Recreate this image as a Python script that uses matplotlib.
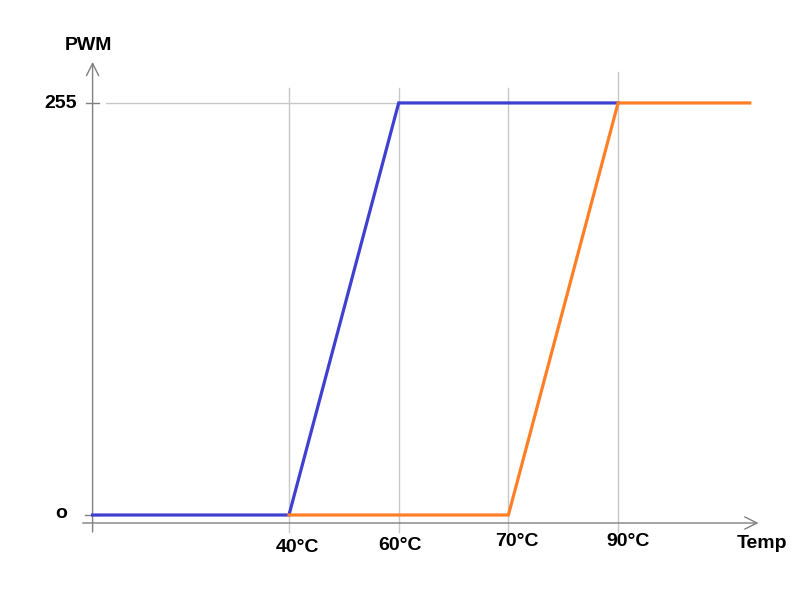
import matplotlib
matplotlib.use('Agg')
import matplotlib.pyplot as plt

# schematic x positions (one unit per temperature step)
temp_labels = ['40°C', '60°C', '70°C', '90°C']
temp_pos = [0, 1, 2, 3]
x_start = -1.79
x_end = 4.2

pwm_min = 0
pwm_max = 255

blue_x = [x_start, 0, 1, 3]
blue_y = [0, 0, 255, 255]
orange_x = [0, 2, 3, x_end]
orange_y = [0, 0, 255, 255]

plt.rcParams['font.family'] = ['Liberation Sans', 'DejaVu Sans']

fig = plt.figure(figsize=(8, 6), dpi=100)
ax = fig.add_axes([0, 0, 1, 1])
ax.set_xlim(-2.634, 4.658)
ax.set_ylim(-52.6, 318.7)
ax.axis('off')

grid_c = '#c8c8c8'
axis_c = '#808080'

# vertical grid lines
for i, p in enumerate(temp_pos):
    top = 274 if i == len(temp_pos) - 1 else 264
    ax.plot([p, p], [-10.5, top], color=grid_c, lw=1, zorder=1)
# horizontal grid line at 255
ax.plot([-1.67, x_end], [pwm_max, pwm_max], color=grid_c, lw=1, zorder=1)

# y ticks
ax.plot([-1.85, -1.73], [pwm_max, pwm_max], color=axis_c, lw=1, zorder=2)
ax.plot([-1.86, -1.72], [pwm_min, pwm_min], color=axis_c, lw=1, zorder=2)

# axes with open arrow heads
ax.annotate('', xy=(4.28, -4.95), xytext=(-1.88, -4.95),
            arrowprops=dict(arrowstyle='->', color=axis_c, lw=1,
                            mutation_scale=22, shrinkA=0, shrinkB=0), zorder=2)
ax.annotate('', xy=(x_start, 280.4), xytext=(x_start, -10.5),
            arrowprops=dict(arrowstyle='->', color=axis_c, lw=1,
                            mutation_scale=22, shrinkA=0, shrinkB=0), zorder=2)

ax.plot(blue_x, blue_y, color='#4040d0', lw=2.3, zorder=3, solid_joinstyle='miter')
ax.plot(orange_x, orange_y, color='#ff7f27', lw=2.3, zorder=4, solid_joinstyle='miter')

font = dict(fontsize=14, fontweight='bold', color='black', ha='center', va='center')

def px(x, y):
    return x / 800, 1 - y / 600

label_px = [(297, 548), (400, 546), (517, 541), (628, 541)]
for lab, (x, y) in zip(temp_labels, label_px):
    fig.text(*px(x, y), lab, **font)

fig.text(*px(762, 543), 'Temp', **font)
fig.text(*px(88, 46), 'PWM', **font)
fig.text(*px(61, 103), str(pwm_max), **font)
fig.text(*px(61, 514), 'o', **font)

fig.savefig('out.png', dpi=100)
